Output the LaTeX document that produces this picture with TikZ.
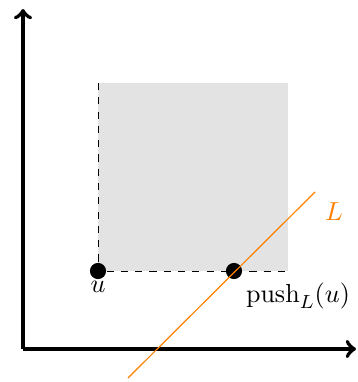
\documentclass[tikz,border=0pt]{standalone}
\usetikzlibrary{positioning}
\begin{document}
\begin{tikzpicture}[x=0.42pt,y=-0.42pt,
  every node/.style={font=\fontsize{11.3}{13.5}\selectfont},
  axis/.style={line width=1.7pt,->},
  dot/.style={circle,fill=black,inner sep=0pt,minimum size=6.8pt},
  guide/.style={dashed,line width=0.4pt},
  lineL/.style={orange,line width=0.5pt}]
\useasboundingbox (0,0) rectangle (357,382);
\fill[black!11] (98,83) rectangle (288,271);
\coordinate (o) at (23,349);
\coordinate (ytip) at (23,9);
\coordinate (xtip) at (356,349);
\draw[axis] (o) -- (ytip);
\draw[axis] (o) -- (xtip);
\coordinate (tl) at (98,83);
\coordinate (br) at (288,271);
\node[dot] (u) at (98,271) {};
\node[dot] (p) at (234,271) {};
\draw[guide] (tl) -- (u);
\draw[guide] (u) -- (br);
\coordinate (l1) at (128,378);
\coordinate (l2) at (315,192);
\draw[lineL] (l1) -- (l2);
\node (ul) at (98,287) {$u$};
\node (pl) at (298,296) {$\mathrm{push}_L(u)$};
\node[text=orange] (Ll) at (334,212) {$L$};
\end{tikzpicture}
\end{document}
